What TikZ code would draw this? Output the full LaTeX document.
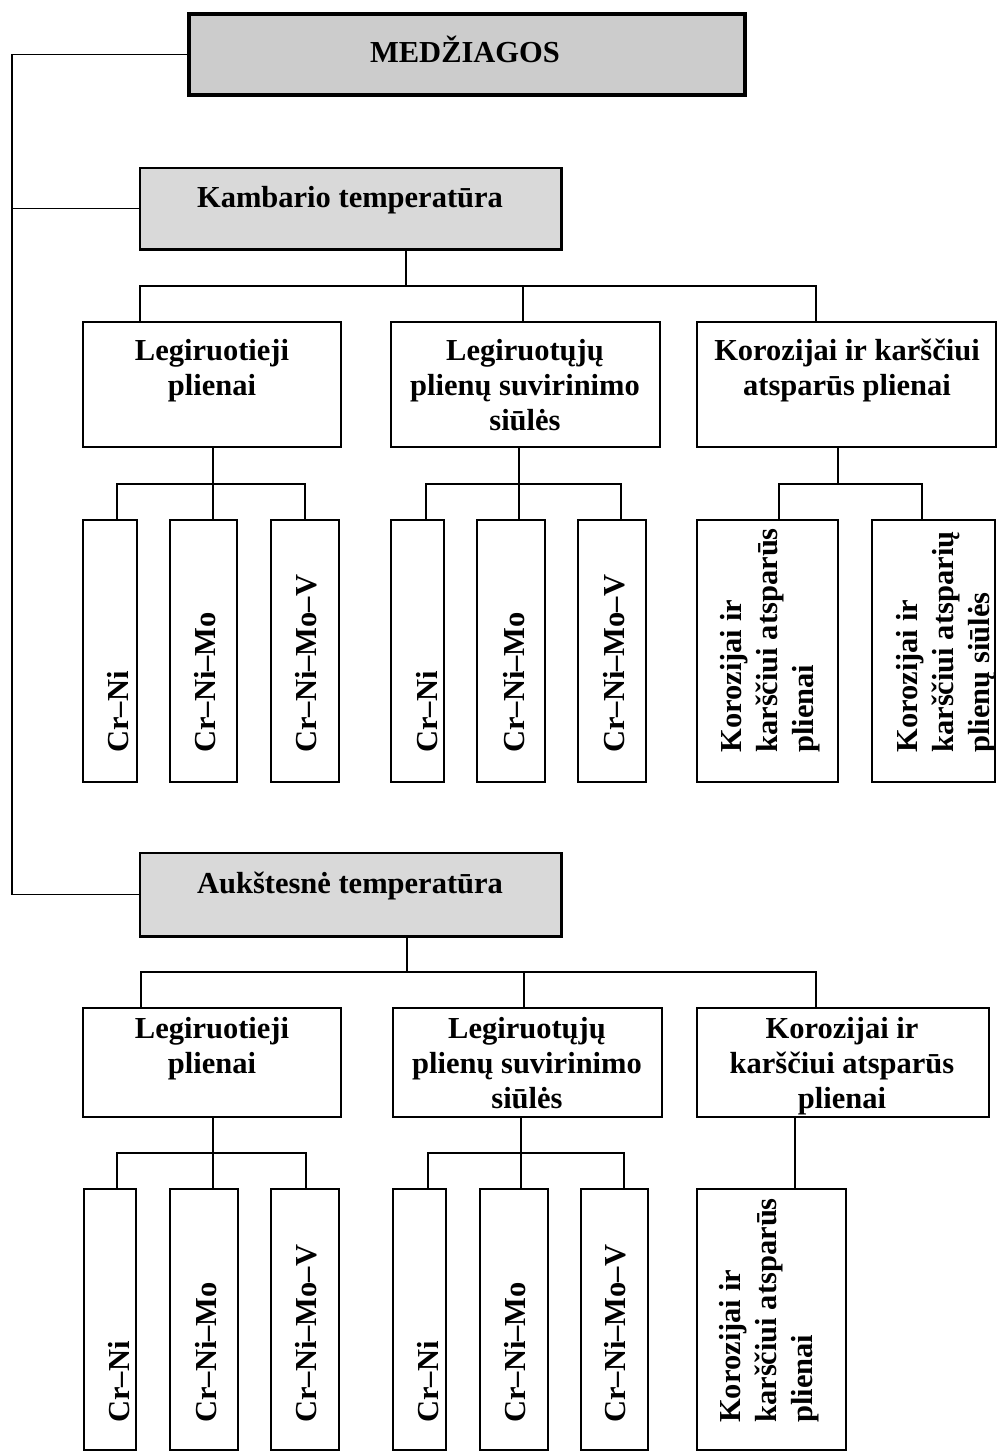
\documentclass[tikz,border=0pt]{standalone}
\usepackage{fontspec}
\setmainfont{Liberation Serif}
\usetikzlibrary{fit,calc}
\definecolor{medgray}{HTML}{CCCCCC}
\definecolor{tempgray}{HTML}{D9D9D9}
\newcommand\tfont{\fontsize{21.7}{24.9}\selectfont\bfseries}
\newcommand\vfont{\fontsize{21.7}{25.6}\selectfont\bfseries}
\begin{document}
\begin{tikzpicture}[x=0.25mm, y=-0.25mm,
  conn/.style={line width=1.3pt},
  wbox/.style={draw, line width=1.3pt, inner sep=0pt, fill=white},
  medbox/.style={draw, line width=2.3pt, inner sep=0pt, fill=medgray},
  tempbox/.style={draw, line width=0.9pt, inner sep=0pt, fill=tempgray},
  edge3d/.style={line width=2.6pt},
  txt/.style={font=\tfont, align=center, inner sep=0pt},
  vtxt/.style={font=\vfont, align=left, inner sep=0pt, rotate=90},
]
\useasboundingbox (0,0) rectangle (999,1451);

% ---------- top level ----------
\node[medbox, fit={(189,14)(745,95)}] (med) {};
\node[txt, anchor=base] (medt) at (465,62) {MEDŽIAGOS};

\node[tempbox, fit={(140,168)(561,249)}] (kam) {};
\draw[edge3d] (kam.south west) -- (kam.south east) -- (kam.north east);
\node[txt, anchor=base] (kamt) at (350,207) {Kambario temperatūra};

\node[tempbox, fit={(140,853)(561,936)}] (auk) {};
\draw[edge3d] (auk.south west) -- (auk.south east) -- (auk.north east);
\node[txt, anchor=base] (aukt) at (350,893) {Aukštesnė temperatūra};

\coordinate (lx) at (12,0);
\draw[conn] (med.west) -- (med.west -| lx) |- (auk.west);
\draw[conn] (kam.west) -- (kam.west -| lx);

% ---------- upper tier, level 2 ----------
\node[wbox, fit={(83,322)(341,447)}] (b1) {};
\node[wbox, fit={(391,322)(660,447)}] (b2) {};
\node[wbox, fit={(697,322)(996,447)}] (b3) {};
\node[txt, anchor=north] (b1t) at (212,339) {Legiruotieji\\plienai};
\node[txt, anchor=north] (b2t) at (525,339) {Legiruotųjų\\plienų suvirinimo\\siūlės};
\node[txt, anchor=north] (b3t) at (847,339) {Korozijai ir karščiui\\atsparūs plienai};

\coordinate (ka) at (406,286);
\coordinate (ua1) at (140,286);
\coordinate (ua2) at (523,286);
\coordinate (ua3) at (816,286);
\draw[conn] (ka |- kam.south) -- (ka);
\draw[conn] (ua1 |- b1.north) -- (ua1) -- (ua3) -- (ua3 |- b3.north);
\draw[conn] (ua2) -- (ua2 |- b2.north);

% ---------- upper tier, level 3 ----------
\node[wbox, fit={(83,520)(137,782)}] (c11) {};
\node[wbox, fit={(170,520)(237,782)}] (c12) {};
\node[wbox, fit={(271,520)(339,782)}] (c13) {};
\node[wbox, fit={(391,520)(444,782)}] (c21) {};
\node[wbox, fit={(477,520)(545,782)}] (c22) {};
\node[wbox, fit={(578,520)(646,782)}] (c23) {};
\node[wbox, fit={(697,520)(838,782)}] (c31) {};
\node[wbox, fit={(872,520)(995,782)}] (c32) {};

\coordinate (g1a) at (117,484);
\coordinate (g1b) at (213,484);
\coordinate (g1c) at (305,484);
\draw[conn] (g1b |- b1.south) -- (g1b) -- (g1b |- c12.north);
\draw[conn] (g1a |- c11.north) -- (g1a) -- (g1c) -- (g1c |- c13.north);

\coordinate (g2a) at (426,484);
\coordinate (g2b) at (519,484);
\coordinate (g2c) at (621,484);
\draw[conn] (g2b |- b2.south) -- (g2b) -- (g2b |- c22.north);
\draw[conn] (g2a |- c21.north) -- (g2a) -- (g2c) -- (g2c |- c23.north);

\coordinate (g3a) at (779,484);
\coordinate (g3b) at (838,484);
\coordinate (g3c) at (922,484);
\draw[conn] (g3b |- b3.south) -- (g3b);
\draw[conn] (g3a |- c31.north) -- (g3a) -- (g3c) -- (g3c |- c32.north);

\node[vtxt, anchor=base west] (c11t) at (128,753) {Cr–Ni};
\node[vtxt, anchor=base west] (c12t) at (215,753) {Cr–Ni–Mo};
\node[vtxt, anchor=base west] (c13t) at (316,753) {Cr–Ni–Mo–V};
\node[vtxt, anchor=base west] (c21t) at (437,753) {Cr–Ni};
\node[vtxt, anchor=base west] (c22t) at (524,753) {Cr–Ni–Mo};
\node[vtxt, anchor=base west] (c23t) at (624,753) {Cr–Ni–Mo–V};
\node[vtxt, anchor=north west] (c31t) at (720,753) {Korozijai ir\\karščiui atsparūs\\plienai};
\node[vtxt, anchor=north west] (c32t) at (896,753) {Korozijai ir\\karščiui atsparių\\plienų siūlės};

% ---------- lower tier, level 2 ----------
\node[wbox, fit={(83,1008)(341,1117)}] (d1) {};
\node[wbox, fit={(393,1008)(662,1117)}] (d2) {};
\node[wbox, fit={(697,1008)(989,1117)}] (d3) {};
\node[txt, anchor=north] (d1t) at (212,1017) {Legiruotieji\\plienai};
\node[txt, anchor=north] (d2t) at (527,1017) {Legiruotųjų\\plienų suvirinimo\\siūlės};
\node[txt, anchor=north] (d3t) at (842,1017) {Korozijai ir\\karščiui atsparūs\\plienai};

\coordinate (la) at (407,972);
\coordinate (la1) at (141,972);
\coordinate (la2) at (524,972);
\coordinate (la3) at (816,972);
\draw[conn] (la |- auk.south) -- (la);
\draw[conn] (la1 |- d1.north) -- (la1) -- (la3) -- (la3 |- d3.north);
\draw[conn] (la2) -- (la2 |- d2.north);

% ---------- lower tier, level 3 ----------
\node[wbox, fit={(84,1189)(136,1450)}] (e11) {};
\node[wbox, fit={(170,1189)(238,1450)}] (e12) {};
\node[wbox, fit={(271,1189)(339,1450)}] (e13) {};
\node[wbox, fit={(393,1189)(446,1450)}] (e21) {};
\node[wbox, fit={(480,1189)(548,1450)}] (e22) {};
\node[wbox, fit={(581,1189)(648,1450)}] (e23) {};
\node[wbox, fit={(697,1189)(846,1450)}] (e31) {};

\coordinate (h1a) at (117,1153);
\coordinate (h1b) at (213,1153);
\coordinate (h1c) at (306,1153);
\draw[conn] (h1b |- d1.south) -- (h1b) -- (h1b |- e12.north);
\draw[conn] (h1a |- e11.north) -- (h1a) -- (h1c) -- (h1c |- e13.north);

\coordinate (h2a) at (428,1153);
\coordinate (h2b) at (521,1153);
\coordinate (h2c) at (624,1153);
\draw[conn] (h2b |- d2.south) -- (h2b) -- (h2b |- e22.north);
\draw[conn] (h2a |- e21.north) -- (h2a) -- (h2c) -- (h2c |- e23.north);

\coordinate (h3) at (795,1153);
\draw[conn] (h3 |- d3.south) -- (h3 |- e31.north);

\node[vtxt, anchor=base west] (e11t) at (129,1423) {Cr–Ni};
\node[vtxt, anchor=base west] (e12t) at (216,1423) {Cr–Ni–Mo};
\node[vtxt, anchor=base west] (e13t) at (316,1423) {Cr–Ni–Mo–V};
\node[vtxt, anchor=base west] (e21t) at (438,1423) {Cr–Ni};
\node[vtxt, anchor=base west] (e22t) at (525,1423) {Cr–Ni–Mo};
\node[vtxt, anchor=base west] (e23t) at (625,1423) {Cr–Ni–Mo–V};
\node[vtxt, anchor=north west] (e31t) at (719,1423) {Korozijai ir\\karščiui atsparūs\\plienai};
\end{tikzpicture}
\end{document}
